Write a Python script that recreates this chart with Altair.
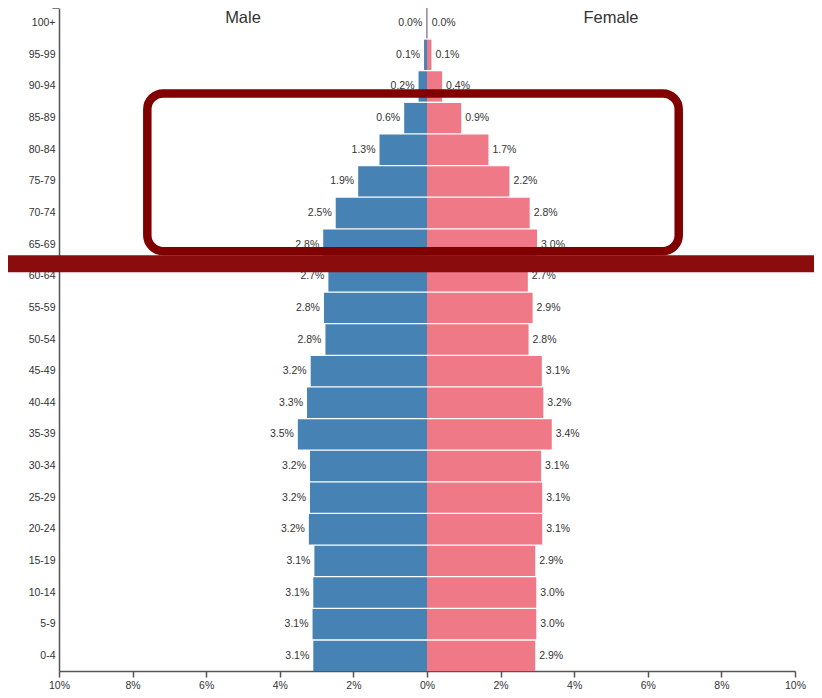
import altair as alt
import pandas as pd

# ---- data ----
ages = ["100+", "95-99", "90-94", "85-89", "80-84", "75-79", "70-74", "65-69",
        "60-64", "55-59", "50-54", "45-49", "40-44", "35-39", "30-34", "25-29",
        "20-24", "15-19", "10-14", "5-9", "0-4"]
male_pct = [0.02, 0.08, 0.23, 0.62, 1.29, 1.87, 2.48, 2.82,
            2.68, 2.80, 2.76, 3.16, 3.26, 3.51, 3.18, 3.18,
            3.21, 3.06, 3.09, 3.11, 3.09]
female_pct = [0.02, 0.12, 0.41, 0.93, 1.67, 2.24, 2.79, 2.99,
              2.74, 2.87, 2.76, 3.12, 3.16, 3.39, 3.10, 3.13,
              3.13, 2.94, 2.97, 2.97, 2.94]
sex_names = ["Male", "Female"]
sex_colors = ["#4682B4", "#EF7987"]
x_ticks = [-10, -8, -6, -4, -2, 0, 2, 4, 6, 8, 10]
title_x = [-5, 5]

# annotation overlays (in data units)
box_x = [-7.6, 6.84]
box_rows = ["90-94", "65-69"]
band_x = [-11.4, 10.6]
band_row = ["60-64"]

FONT = "Liberation Sans"
TXT = "#333333"
AX = "#555555"

rows = []
for a, m, f in zip(ages, male_pct, female_pct):
    rows.append({"age": a, "sex": "Male", "value": -m, "pct": m})
    rows.append({"age": a, "sex": "Female", "value": f, "pct": f})
df = pd.DataFrame(rows)

x_scale = alt.Scale(domain=[-10, 10], nice=False, zero=False)
y_scale = alt.Scale(domain=ages, paddingInner=0.04, paddingOuter=0)
x_axis = alt.Axis(title=None, values=x_ticks, labelExpr="abs(datum.value) + '%'",
                  grid=False, tickSize=6, tickColor=AX, tickWidth=1.5,
                  domainColor=AX, domainWidth=1.5, labelFont=FONT,
                  labelFontSize=10.5, labelColor=TXT, labelPadding=3,
                  labelFlush=False, labelOverlap=False)
y_axis = alt.Axis(title=None, ticks=False, grid=False, domainColor=AX,
                  domainWidth=1.5, labelFont=FONT, labelFontSize=10.5,
                  labelColor=TXT, labelPadding=4)


def X(field):
    return alt.X(field, type="quantitative", scale=x_scale, axis=x_axis)


def Y(field, bp=None):
    if bp is None:
        return alt.Y(field, type="nominal", sort=ages, scale=y_scale, axis=y_axis)
    return alt.Y(field, type="nominal", sort=ages, scale=y_scale, axis=y_axis,
                 bandPosition=bp)


base = alt.Chart(df)

bars = base.mark_bar().encode(
    x=alt.X("value:Q", scale=x_scale, axis=x_axis, stack=None),
    y=Y("age"),
    color=alt.Color("sex:N", scale=alt.Scale(domain=sex_names, range=sex_colors),
                    legend=None),
)

lab = base.transform_calculate(txt="format(datum.pct, '.1f') + '%'")
male_lab = lab.transform_filter("datum.sex == 'Male'").mark_text(
    align="right", baseline="middle", dx=-4, font=FONT, fontSize=10.5, color=TXT
).encode(x=X("value"), y=Y("age"), text="txt:N")
female_lab = lab.transform_filter("datum.sex == 'Female'").mark_text(
    align="left", baseline="middle", dx=4, font=FONT, fontSize=10.5, color=TXT
).encode(x=X("value"), y=Y("age"), text="txt:N")

titles_df = pd.DataFrame({"sex": sex_names, "tx": title_x, "age": [ages[0], ages[0]]})
titles = alt.Chart(titles_df).mark_text(
    align="center", baseline="top", dy=2, font=FONT, fontSize=16.5, color=TXT
).encode(x=X("tx"), y=Y("age", 0), text="sex:N")

# small outer tick at the top end of the y-axis domain
ot_df = pd.DataFrame({"a": [ages[0]], "x0": [-10.18], "x1": [-10]})
outer_top = alt.Chart(ot_df).mark_rule(color=AX, strokeWidth=1.5).encode(
    x=X("x0"), x2="x1", y=Y("a", 0))

box_df = pd.DataFrame({"x0": [box_x[0]], "x1": [box_x[1]],
                       "top": [box_rows[0]], "bottom": [box_rows[1]]})
box = alt.Chart(box_df).mark_rect(
    fillOpacity=0, stroke="#800000", strokeWidth=8.5, cornerRadius=16
).encode(
    x=X("x0"), x2="x1",
    y=Y("top", 0.73),
    y2=alt.Y2("bottom", bandPosition=0.72),
)

band_df = pd.DataFrame({"x0": [band_x[0]], "x1": [band_x[1]], "r": band_row})
band = alt.Chart(band_df).mark_rule(color="#8A0C0C", strokeWidth=17).encode(
    x=X("x0"), x2="x1", y=Y("r", 0.09))

chart = alt.layer(bars, male_lab, female_lab, titles, outer_top, box, band).properties(
    width=736, height=663,
    autosize=alt.AutoSizeParams(type="none"),
    padding={"left": 51, "top": 0, "right": 19, "bottom": 19},
).configure_view(strokeWidth=0)

chart.save("out.html", embed_options={"renderer": "svg", "actions": False})
